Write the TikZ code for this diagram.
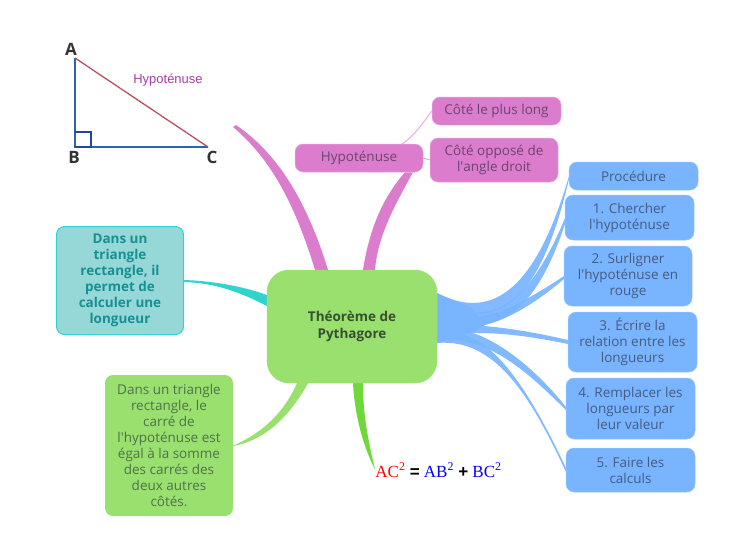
\documentclass[tikz,border=0pt]{standalone}
\usepackage{fontspec}
\setmainfont{Open Sans}
\newfontfamily\arialfont{Liberation Sans}
\newfontfamily\timesfont{Liberation Serif}
\usepackage{xcolor}
\usepackage{tikz}
\usetikzlibrary{backgrounds}
\definecolor{pinkbox}{RGB}{220,124,204}
\definecolor{pinktext}{RGB}{105,70,112}
\definecolor{pinkline}{RGB}{236,170,226}
\definecolor{bluebox}{RGB}{120,180,255}
\definecolor{blueedge}{RGB}{150,198,255}
\definecolor{bluetext}{RGB}{72,92,125}
\definecolor{greenbox}{RGB}{153,224,110}
\definecolor{greentext}{RGB}{78,115,72}
\definecolor{greenlimb}{RGB}{112,216,58}
\definecolor{tealbox}{RGB}{150,216,216}
\definecolor{tealedge}{RGB}{45,212,208}
\definecolor{tealtext}{RGB}{20,145,145}
\definecolor{hubtext}{RGB}{55,80,50}
\definecolor{legblue}{RGB}{48,98,178}
\definecolor{squareblue}{RGB}{35,70,165}
\definecolor{longred}{RGB}{184,80,96}
\definecolor{hyppurple}{RGB}{165,60,170}
\newcommand{\apos}{\textquotesingle}
\tikzset{
  card/.style={rounded corners=8pt, align=center, inner sep=0pt, font=\fontsize{13.5}{16}\selectfont},
  pinkcard/.style={card, fill=pinkbox, draw=pinkline, line width=0.5pt, text=pinktext},
  bluecard/.style={card, fill=bluebox, draw=blueedge, line width=0.5pt, text=bluetext},
  greencard/.style={card, fill=greenbox, text=greentext},
  tealcard/.style={card, fill=tealbox, draw=tealedge, line width=1pt, text=tealtext, font=\fontsize{13.5}{16}\selectfont\bfseries},
  corner/.style={font=\fontsize{17}{17}\selectfont\bfseries, text=black!80, inner sep=0pt}
}
\begin{document}
\begin{tikzpicture}[x=1pt, y=-1pt]
    \useasboundingbox (0,0) rectangle (738,555);
    % Centre
    \node[card, fill=greenbox, draw=greenbox, rounded corners=22pt, minimum width=170pt, minimum height=113pt, text=hubtext, font=\fontsize{13.5}{17}\selectfont\bfseries] (hub) at (352,326.5) {Théorème de\\Pythagore};
    % Pink side
    \node[pinkcard, minimum width=128pt, minimum height=28pt] (hypo) at (359,158) {Hypoténuse};
    \node[pinkcard, minimum width=129pt, minimum height=28pt] (longest) at (496.5,111) {Côté le plus long};
    \node[pinkcard, minimum width=128pt, minimum height=44pt] (opposite) at (494,160) {Côté opposé de\\l\apos angle droit};
    % Procedure steps
    \node[bluecard, minimum width=129pt, minimum height=28pt] (proc) at (633.5,176) {Procédure};
    \node[bluecard, minimum width=129pt, minimum height=45pt] (stepa) at (629.5,217.5) {1. Chercher\\l\apos hypoténuse};
    \node[bluecard, minimum width=128pt, minimum height=60pt] (stepb) at (628,276) {2. Surligner\\l\apos hypoténuse en\\rouge};
    \node[bluecard, minimum width=129pt, minimum height=60pt] (stepc) at (632.5,342) {3. Écrire la\\relation entre les\\longueurs};
    \node[bluecard, minimum width=129pt, minimum height=61pt] (stepd) at (630.5,408.5) {4. Remplacer les\\longueurs par\\leur valeur};
    \node[bluecard, minimum width=129pt, minimum height=44pt] (stepe) at (630.5,470) {5. Faire les\\calculs};
    % Left side
    \node[tealcard, minimum width=127pt, minimum height=108pt] (purpose) at (120,280.5) {Dans un\\triangle\\rectangle, il\\permet de\\calculer une\\longueur};
    \node[greencard, minimum width=128pt, minimum height=141pt] (statement) at (169,445.5) {Dans un triangle\\rectangle, le\\carré de\\l\apos hypoténuse est\\égal à la somme\\des carrés des\\deux autres\\côtés.};
    % Formula
    \node[inner sep=0pt, font=\timesfont\fontsize{17}{17}\selectfont] (formula) at (438.5,470) {\textcolor{red}{AC\textsuperscript{2}} {\arialfont\bfseries =} \textcolor{blue}{AB\textsuperscript{2}} {\arialfont\bfseries +} \textcolor{blue}{BC\textsuperscript{2}}};
    % Triangle
    \coordinate (A) at (75,58);
    \coordinate (B) at (75,147);
    \coordinate (C) at (208,147);
    \coordinate (pinktip) at (233,127);
    \draw[line width=1.3pt, legblue] (A) -- (B) -- (C);
    \draw[line width=1.3pt, longred] (A) -- (C);
    \draw[line width=1.3pt, squareblue] (75,132) -- (91,132) -- (91,147) -- (75,147);
    \node[corner] (labelA) at (71,49) {A};
    \node[corner] (labelB) at (74,157) {B};
    \node[corner] (labelC) at (212,157) {C};
    \node[inner sep=0pt, text=hyppurple, font=\arialfont\fontsize{13}{14}\selectfont] (hyplabel) at (168,80) {Hypoténuse};
    % Branches
    \begin{pgfonlayer}{background}
        \fill[pinkbox] ([xshift=-37pt]hub.north) .. controls (295,205) and (272,160) .. (pinktip) -- (236,125) .. controls (280,155) and (308,205) .. ([xshift=-24pt]hub.north) -- cycle;
        \fill[pinkbox] ([xshift=11pt]hub.north) .. controls (370,225) and (385,195) .. ([xshift=46pt]hypo.south) -- ([xshift=54pt]hypo.south) .. controls (395,205) and (378,235) .. ([xshift=23pt]hub.north) -- cycle;
        \draw[pinkline, line width=1pt] (402,144) .. controls (414,136) and (424,122) .. (longest.west);
        \draw[pinkline, line width=1pt] (hypo.east) -- (opposite.west);
        \fill[tealedge] ([yshift=31.5pt]hub.west) .. controls (245,287) and (215,281) .. (184,280) -- (184,282) .. controls (215,283) and (240,292) .. ([yshift=20.5pt]hub.west) -- cycle;
        \fill[greenbox] ([xshift=-55pt]hub.south) .. controls (285,410) and (265,432) .. (statement.east) -- (233,446) .. controls (268,440) and (292,412) .. ([xshift=-44pt]hub.south) -- cycle;
        \fill[greenlimb] ([xshift=1pt]hub.south) .. controls (355,420) and (365,450) .. (formula.west) .. controls (368,440) and (363,415) .. ([xshift=11pt]hub.south) -- cycle;
        % Blue fan
        \fill[bluebox] ([yshift=33pt]hub.east) -- (472,308) -- (485,325) -- (473,332) -- ([yshift=-16pt]hub.east) -- cycle;
        \begin{scope}[bluebox, opacity=0.92]
            \fill ([yshift=33.5pt]hub.east) .. controls (480,315) and (530,310) .. (569,176) -- (569,179) .. controls (535,325) and (485,325) .. ([yshift=21.5pt]hub.east) -- cycle;
            \fill ([yshift=24.5pt]hub.east) .. controls (485,325) and (525,315) .. (565,218) -- (565,224) .. controls (530,330) and (485,335) .. ([yshift=11.5pt]hub.east) -- cycle;
            \fill ([yshift=14.5pt]hub.east) .. controls (480,328) and (520,305) .. (564,276) -- (564,279) .. controls (525,312) and (480,338) .. ([yshift=1.5pt]hub.east) -- cycle;
            \fill ([yshift=4.5pt]hub.east) .. controls (460,326) and (490,322) .. (568,340) -- (568,344) .. controls (500,330) and (470,332) .. ([yshift=-9.5pt]hub.east) -- cycle;
            \fill ([yshift=-3.5pt]hub.east) .. controls (470,322) and (520,350) .. (566,407) -- (566,410) .. controls (530,375) and (490,335) .. ([yshift=-13.5pt]hub.east) -- cycle;
            \fill ([yshift=-8.5pt]hub.east) .. controls (480,322) and (520,370) .. (566,468) -- (566,472) .. controls (530,395) and (495,338) .. ([yshift=-16.5pt]hub.east) -- cycle;
        \end{scope}
    \end{pgfonlayer}
\end{tikzpicture}
\end{document}
